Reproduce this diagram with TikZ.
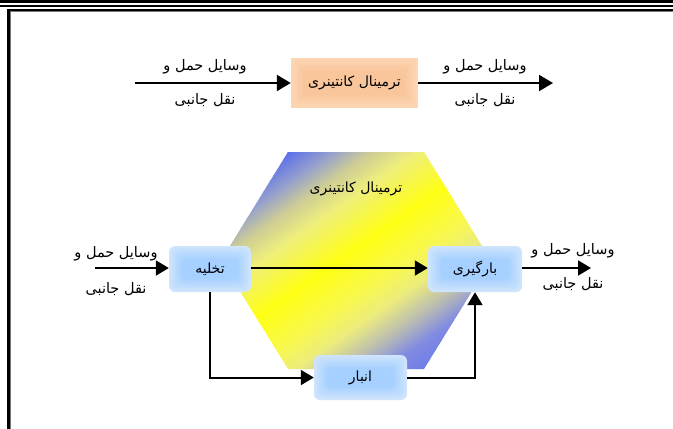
\documentclass[tikz,border=0pt]{standalone}
\usepackage{fontspec}
\usetikzlibrary{arrows.meta}
\TeXXeTstate=1
\newfontfamily\fa[Script=Arabic]{DejaVu Sans}
\newcommand{\fatext}[1]{\beginR #1\endR}

\definecolor{hexA}{RGB}{90,110,235}
\definecolor{hexB}{RGB}{150,160,205}
\definecolor{hexC}{RGB}{205,205,150}
\definecolor{hexD}{RGB}{238,238,125}
\definecolor{hexE}{RGB}{255,255,20}
\definecolor{hexF}{RGB}{248,248,80}
\definecolor{hexG}{RGB}{236,236,125}
\definecolor{hexH}{RGB}{190,192,175}
\definecolor{hexI}{RGB}{130,140,225}
\definecolor{hexJ}{RGB}{95,110,240}
\definecolor{boxOut}{RGB}{208,229,252}
\definecolor{boxIn}{RGB}{165,208,255}
\definecolor{peachOut}{RGB}{252,214,180}
\definecolor{peachIn}{RGB}{249,198,155}
\definecolor{frameGray}{RGB}{120,120,120}

% one band of the hexagon gradient, drawn as thin strips across the axis
\newcommand{\hexband}[5]{%
  \foreach \i in {1,...,#5}{%
    \pgfmathsetmacro{\sa}{(#1)+((#2)-(#1))*(\i-1)/#5}%
    \pgfmathsetmacro{\sb}{(#1)+((#2)-(#1))*\i/#5+0.5}%
    \pgfmathsetmacro{\pc}{100*(\i-0.5)/#5}%
    \fill[#4!\pc!#3] (\sa,-260) rectangle (\sb,260);
  }}

% soft glowing panel: centre x, centre y, width, height, outer, inner, corner radius
\newcommand{\glowpanel}[7]{%
  \foreach \k in {0,...,11}{%
    \pgfmathsetmacro{\ins}{\k*1.2}%
    \pgfmathsetmacro{\pc}{\k*100/11}%
    \fill[#6!\pc!#5, rounded corners=#7]
      ({#1-#3/2+\ins},{#2-#4/2+\ins}) rectangle ({#1+#3/2-\ins},{#2+#4/2-\ins});
  }}

\begin{document}
\begin{tikzpicture}[x=1pt,y=-1pt,
  flow/.style={line width=2pt,-{Triangle[length=14pt,width=16pt]}},
  link/.style={line width=2pt,-{Triangle[length=13pt,width=15pt]}},
  lbl/.style={font=\fa\fontsize{14.5}{16}\selectfont, inner sep=0pt},
  stage/.style={font=\fa\fontsize{14}{16}\selectfont, inner sep=0pt}]
\useasboundingbox (0,0) rectangle (673,429);

% page rules and frame
\fill[black] (0,0) rectangle (673,3);
\fill[black] (0,4.8) rectangle (673,7.2);
\draw[frameGray, line width=1.2pt] (10.8,440) -- (10.8,11) -- (690,11);
\draw[black, line width=2.4pt] (8.4,440) -- (8.4,9.7) -- (690,9.7);

% ---- top row ----
\glowpanel{354.5}{83}{127}{50}{peachOut}{peachIn}{0pt}
\node[stage, minimum width=127pt, minimum height=50pt] (term) at (354.5,83) {\fatext{ترمینال کانتینری}};
\coordinate (in1) at (135,83);
\coordinate (out1) at (553,83);
\draw[flow] (in1) -- (term.west);
\draw[flow] (term.east) -- (out1);
\node[lbl] (inA) at (205,67) {\fatext{وسایل حمل و}};
\node[lbl] (inB) at (205,100) {\fatext{نقل جانبی}};
\node[lbl] (outA) at (485,67) {\fatext{وسایل حمل و}};
\node[lbl] (outB) at (485,100) {\fatext{نقل جانبی}};

% ---- hexagon ----
\begin{scope}
  \clip (288,152) -- (424,152) -- (491,260.5) -- (424,369) -- (288,369) -- (221,260.5) -- cycle;
  \begin{scope}[shift={(356.5,260.5)}, rotate=-55]
    \hexband{-150}{-128}{hexA}{hexA}{2}
    \hexband{-128}{-102}{hexA}{hexB}{10}
    \hexband{-102}{-80}{hexB}{hexC}{10}
    \hexband{-80}{-55}{hexC}{hexD}{10}
    \hexband{-55}{-10}{hexD}{hexE}{15}
    \hexband{-10}{30}{hexE}{hexF}{12}
    \hexband{30}{55}{hexF}{hexG}{10}
    \hexband{55}{80}{hexG}{hexH}{10}
    \hexband{80}{105}{hexH}{hexI}{10}
    \hexband{105}{150}{hexI}{hexJ}{10}
  \end{scope}
\end{scope}
\node[stage] (hexlbl) at (356,189) {\fatext{ترمینال کانتینری}};

% ---- stages ----
\glowpanel{210}{269}{82}{46}{boxOut}{boxIn}{6pt}
\node[stage, minimum width=82pt, minimum height=46pt] (unload) at (210,269) {\fatext{تخلیه}};
\glowpanel{475}{269}{94}{46}{boxOut}{boxIn}{6pt}
\node[stage, minimum width=94pt, minimum height=46pt] (load) at (475,269) {\fatext{بارگیری}};
\glowpanel{360.5}{377.5}{93}{45}{boxOut}{boxIn}{6pt}
\node[stage, minimum width=93pt, minimum height=45pt] (store) at (360.5,377.5) {\fatext{انبار}};

\coordinate (in2) at (95,268);
\coordinate (out2) at (591,268);
\draw[link] (in2) -- (unload.west |- in2);
\draw[link] (unload.east |- in2) -- (load.west |- in2);
\draw[link] (load.east |- in2) -- (out2);
\draw[link] (unload.south) |- (store.west);
\draw[link] (store.east) -| (load.south);

\node[lbl] (in2A) at (116,254) {\fatext{وسایل حمل و}};
\node[lbl] (in2B) at (116,289) {\fatext{نقل جانبی}};
\node[lbl] (out2A) at (573,251) {\fatext{وسایل حمل و}};
\node[lbl] (out2B) at (573,284) {\fatext{نقل جانبی}};
\end{tikzpicture}
\end{document}
